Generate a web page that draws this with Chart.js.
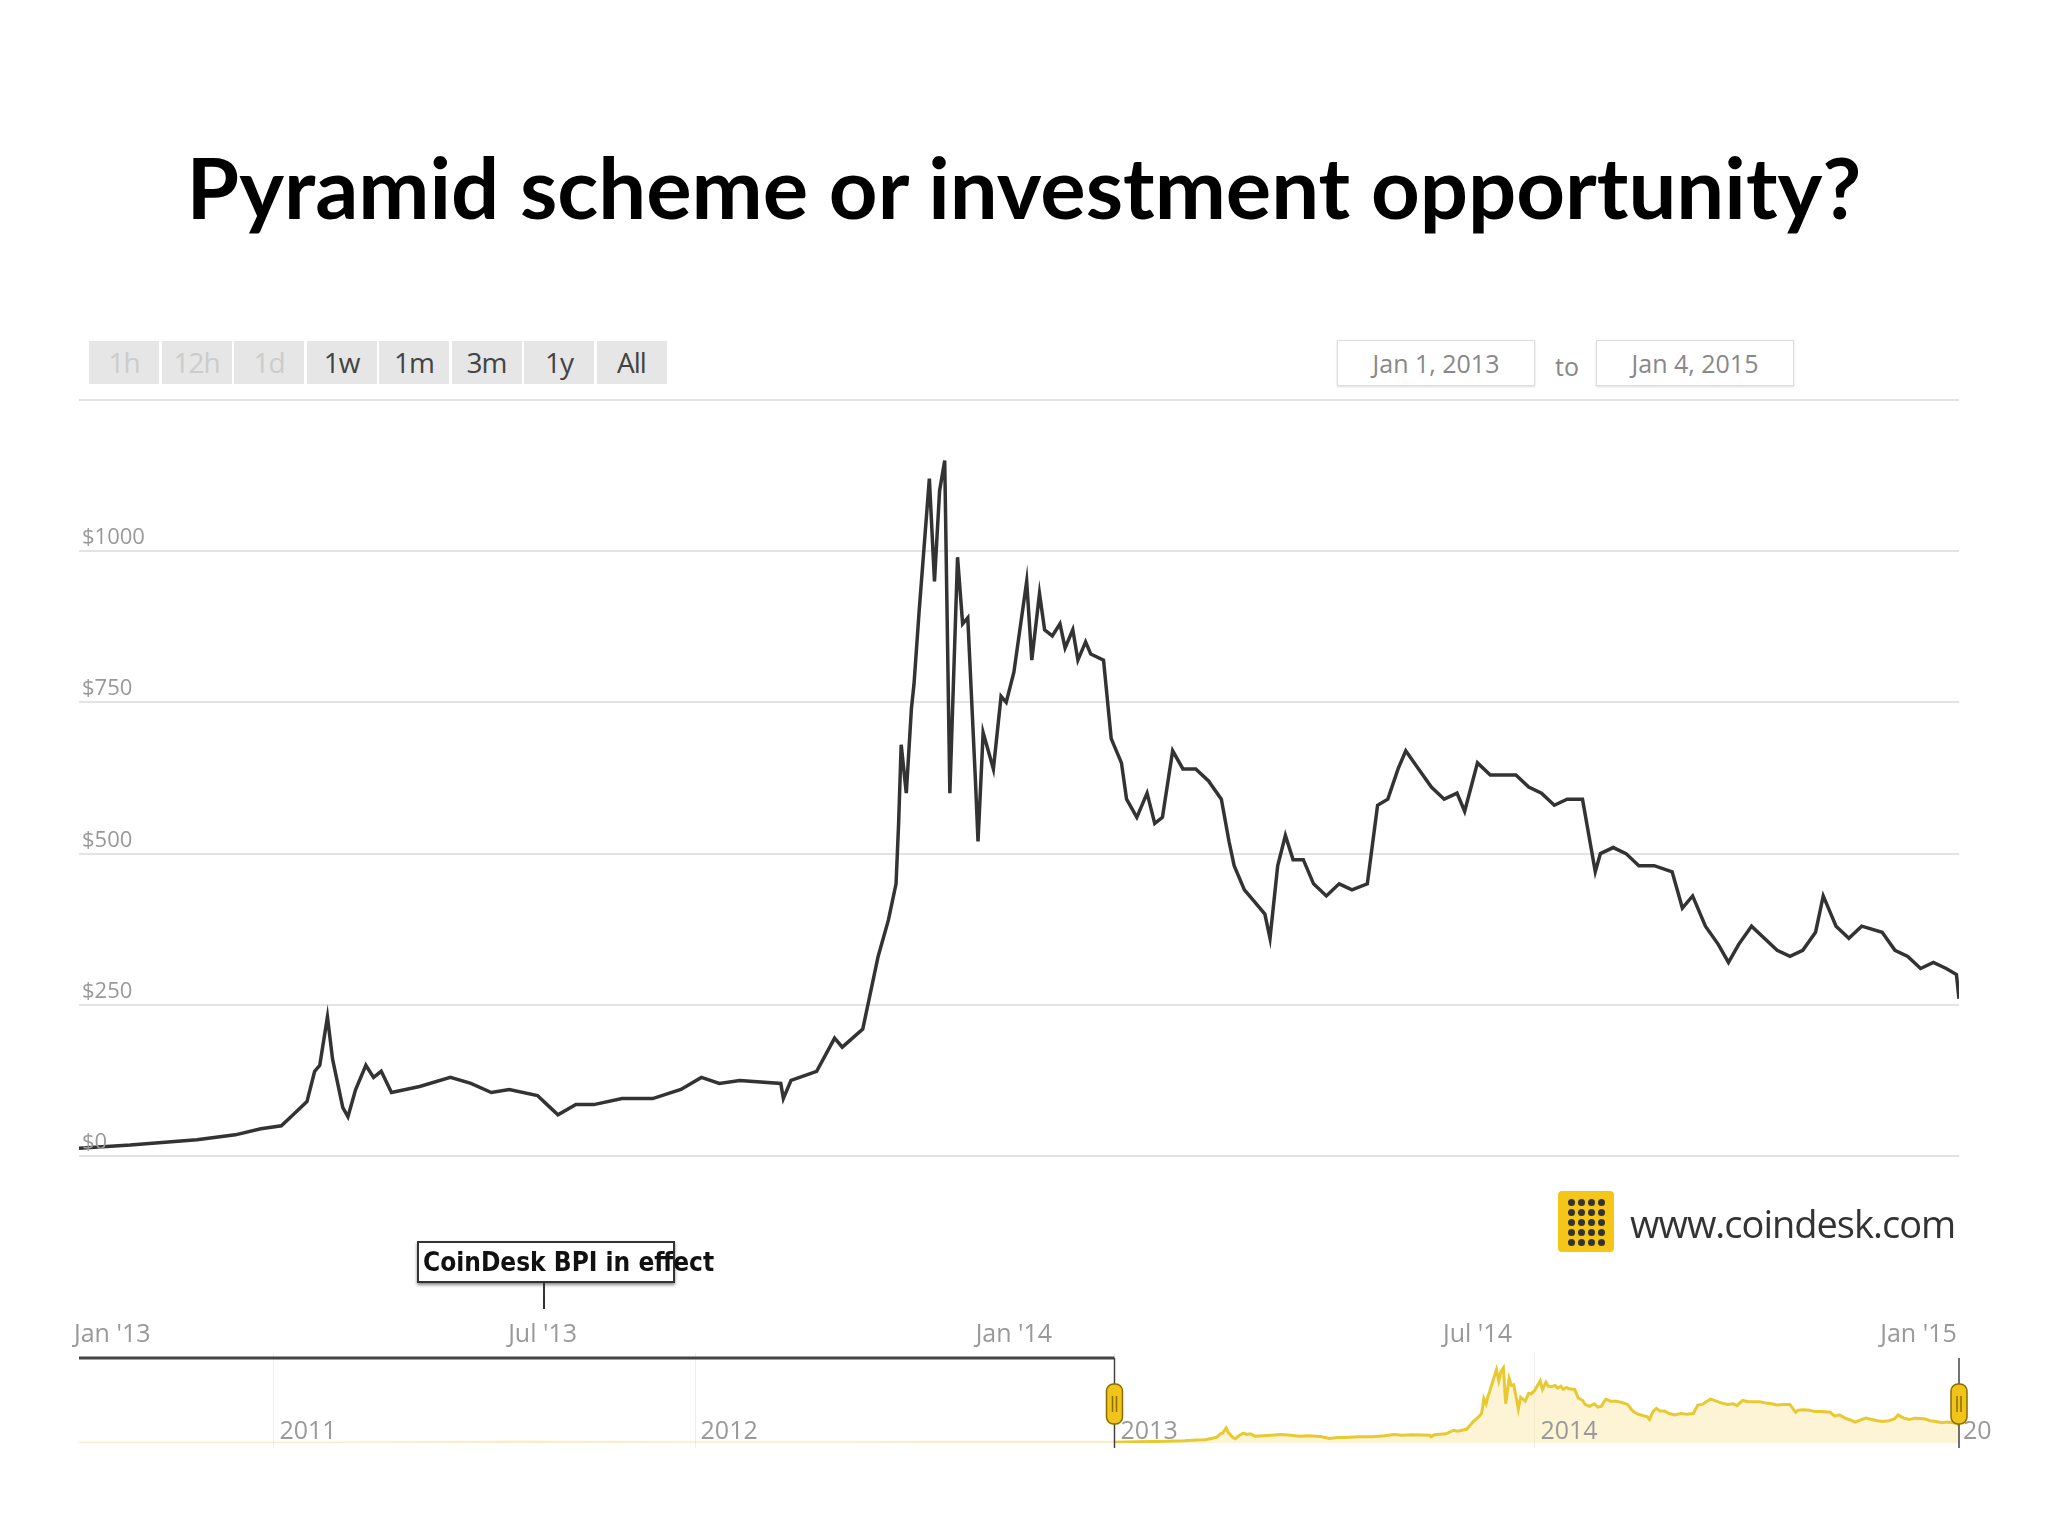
<!DOCTYPE html>
<html><head><meta charset="utf-8">
<script src="https://cdn.jsdelivr.net/npm/chart.js@4.4.0/dist/chart.umd.min.js"></script>
<style>
body{margin:0;width:2048px;height:1536px;background:#fff;position:relative;overflow:hidden;font-family:"Open Sans",sans-serif}
#title{position:absolute;top:135px;left:0;width:2048px;text-align:center;font:700 85px Lato,sans-serif;color:#000}
.btn{position:absolute;top:341px;height:43px;width:70px;background:#e6e6e6;text-align:center;line-height:43px;font-size:28px;color:#444;letter-spacing:-1px}
.btn.off{color:#ccc}
.date{position:absolute;top:340px;height:44px;width:196px;border:1px solid #ddd;box-shadow:0 1px 2px #ddd;text-align:center;line-height:44px;font-size:25px;color:#888}
#c1,#c2{position:absolute;left:0}
#bpi{position:absolute;left:417px;top:1241px;width:250px;height:38px;border:2px solid #333;box-shadow:0 2px 3px #888;font:700 26px "DejaVu Sans Condensed","DejaVu Sans",sans-serif;line-height:38px;white-space:nowrap;padding-left:4px;color:#111}
#bpiLine{position:absolute;left:543px;top:1281px;width:2px;height:28px;background:#333}
#logo{position:absolute;left:1558px;top:1191px;width:56px;height:61px;background:#f5c518;border-radius:4px}
#logo i{position:absolute;width:7px;height:7px;border-radius:50%;background:#333}
#site{position:absolute;left:1630px;top:1197px;font:400 38px "Open Sans",sans-serif;color:#333;letter-spacing:-1px}
</style></head><body>
<div id="title">Pyramid scheme or investment opportunity?</div>
<div id="btns"></div>
<div class="date" style="left:1337px">Jan 1, 2013</div>
<div style="position:absolute;left:1555px;top:349px;font-size:25px;color:#888">to</div>
<div class="date" style="left:1596px">Jan 4, 2015</div>
<canvas id="c1" width="2048" height="1536" style="top:0;width:2048px;height:1536px"></canvas>
<canvas id="c2" width="2048" height="200" style="top:1290px;width:2048px;height:200px"></canvas>
<div id="bpi">CoinDesk BPI in effect</div><div id="bpiLine"></div>
<div id="logo"></div>
<div id="site">www.coindesk.com</div>
<script>
const buttonLabels=["1h","12h","1d","1w","1m","3m","1y","All"];
const yTickLabels=["$0","$250","$500","$750","$1000"];
const xTickDays=[0,181,365,546,730];
const xTickLabels=["Jan '13","Jul '13","Jan '14","Jul '14","Jan '15"];
const days=[0,20,46,61,71,79,84,89,92,94,97,99,103,105,108,112,115,118,122,133,145,153,161,168,179,184,187,194,201,212,224,235,243,250,258,274,275,278,288,295,298,306,310,312,316,319,320,321,323,325,326,328,332,334,336,338,340,343,345,347,350,351,353,357,360,362,365,367,370,372,375,377,380,383,385,388,390,393,395,400,403,407,409,413,417,420,423,427,431,436,441,446,449,451,455,459,463,465,468,471,474,478,482,487,492,497,503,507,511,515,518,523,528,533,538,541,546,551,556,561,566,571,576,581,587,592,594,599,604,609,615,622,626,630,635,640,644,648,653,658,663,668,673,678,681,686,691,696,704,709,714,719,724,729,733,734];
const prices=[13,18,27,35,45,50,70,90,140,150,230,160,80,65,110,150,130,140,105,115,130,120,105,110,100,80,68,85,85,95,95,110,130,120,125,120,95,125,140,195,180,210,290,330,390,450,550,680,600,740,780,900,1120,950,1100,1150,600,990,880,890,620,520,700,640,760,750,800,860,950,820,930,870,860,880,840,870,820,850,830,820,690,650,590,560,600,550,560,670,640,640,620,590,520,480,440,420,400,360,480,530,490,490,450,430,450,440,450,580,590,640,670,640,610,590,600,570,650,630,630,630,610,600,580,590,590,470,500,510,500,480,480,470,410,430,380,350,320,350,380,360,340,330,340,370,430,380,360,380,370,340,330,310,320,310,300,260];
const navEarlyDays=[-900,-800,-700,-600,-520,-450,-365,-250,-150,-60];
const navEarlyPrices=[0.1,0.3,0.9,7,17,10,5,5,11,12];
const navYearDays=[-731,-365,0,365];
const navYearLabels=["2011","2012","2013","2014"];

const bd=document.getElementById('btns');
let bx=89;
buttonLabels.forEach((l,i)=>{const d=document.createElement('div');d.className='btn'+(i<3?' off':'');d.style.left=bx+'px';d.textContent=l;bd.appendChild(d);bx+=72.5;});
const lg=document.getElementById('logo');
for(let r=0;r<5;r++)for(let c=0;c<4;c++){const i=document.createElement('i');i.style.left=(10+c*10)+'px';i.style.top=(8+r*10)+'px';lg.appendChild(i);}

const mainPlug={id:'mp',afterDraw(ch){const c=ch.ctx,x=ch.scales.x,y=ch.scales.y;c.save();
 c.font='22px "Open Sans",sans-serif';c.fillStyle='#999';c.textBaseline='alphabetic';c.textAlign='left';
 yTickLabels.forEach((l,i)=>c.fillText(l,82,y.getPixelForValue(i*250)-7));
 c.font='25px "Open Sans",sans-serif';
 xTickDays.forEach((d,i)=>{let px=x.getPixelForValue(d);c.textAlign=i==0?'left':(i==xTickDays.length-1?'right':'center');c.fillText(xTickLabels[i],i==0?px-5:(i==xTickDays.length-1?px+8:px),1342);});
 c.restore();}};
new Chart(document.getElementById('c1'),{type:'line',
 data:{datasets:[{data:days.map((d,i)=>({x:d,y:prices[i]})),borderColor:'#333',borderWidth:3.5,pointRadius:0,tension:0}]},
 options:{responsive:false,animation:false,devicePixelRatio:1,
  layout:{padding:{left:79,right:89,top:400,bottom:380}},
  plugins:{legend:{display:false},tooltip:{enabled:false}},
  scales:{x:{type:'linear',min:0,max:734,display:false},
   y:{min:0,max:1250,ticks:{display:false,stepSize:250},grid:{color:'#e3e3e3',lineWidth:2,drawTicks:false,tickLength:0},border:{display:false}}}},
 plugins:[mainPlug]});

const navPlug={id:'np',beforeDatasetsDraw(ch){const c=ch.ctx,x=ch.scales.x,a=ch.chartArea;c.save();
 c.strokeStyle='#eee';c.lineWidth=1;
 navYearDays.forEach(d=>{const px=Math.round(x.getPixelForValue(d))+0.5;c.beginPath();c.moveTo(px,a.top-5);c.lineTo(px,a.bottom+5);c.stroke();});
 c.restore();},
 afterDraw(ch){const c=ch.ctx,x=ch.scales.x,a=ch.chartArea;c.save();
 c.font='25px "Open Sans",sans-serif';c.fillStyle='#999';c.textAlign='left';
 navYearDays.forEach((d,i)=>c.fillText(navYearLabels[i],x.getPixelForValue(d)+6,a.bottom-4));
 c.fillText('20',x.getPixelForValue(734)+4,a.bottom-4);
 const s=x.getPixelForValue(0),e=x.getPixelForValue(734);
 c.strokeStyle='#444';c.lineWidth=3;c.beginPath();c.moveTo(a.left,a.top);c.lineTo(s,a.top);c.stroke();
 c.lineWidth=1.5;c.beginPath();c.moveTo(s,a.top);c.lineTo(s,a.bottom+5);c.moveTo(e,a.top);c.lineTo(e,a.bottom+5);c.stroke();
 [s,e].forEach(px=>{c.fillStyle='#f0c419';c.strokeStyle='#8a6d00';c.lineWidth=1.5;c.beginPath();c.roundRect(px-8,a.top+26,16,40,7);c.fill();c.stroke();
  c.beginPath();c.moveTo(px-2,a.top+38);c.lineTo(px-2,a.top+54);c.moveTo(px+2,a.top+38);c.lineTo(px+2,a.top+54);c.stroke();});
 c.restore();}};
const navData=navEarlyDays.map((d,i)=>({x:d,y:navEarlyPrices[i]})).concat(days.map((d,i)=>({x:d,y:prices[i]})));
new Chart(document.getElementById('c2'),{type:'line',
 data:{datasets:[{data:navData,borderColor:'#e8c930',borderWidth:3,pointRadius:0,fill:'origin',backgroundColor:'rgba(250,225,150,0.35)',
  segment:{borderColor:ctx=>ctx.p0.parsed.x<0?'rgba(240,225,160,0.5)':'#e8c930',backgroundColor:ctx=>ctx.p0.parsed.x<0?'rgba(250,240,200,0.3)':'rgba(250,225,150,0.4)'}}]},
 options:{responsive:false,animation:false,devicePixelRatio:1,
  layout:{padding:{left:79,right:89,top:68,bottom:47}},
  plugins:{legend:{display:false},tooltip:{enabled:false}},
  scales:{x:{type:'linear',min:-900,max:734,display:false},y:{min:0,max:1300,display:false}}},
 plugins:[navPlug]});
</script></body></html>
